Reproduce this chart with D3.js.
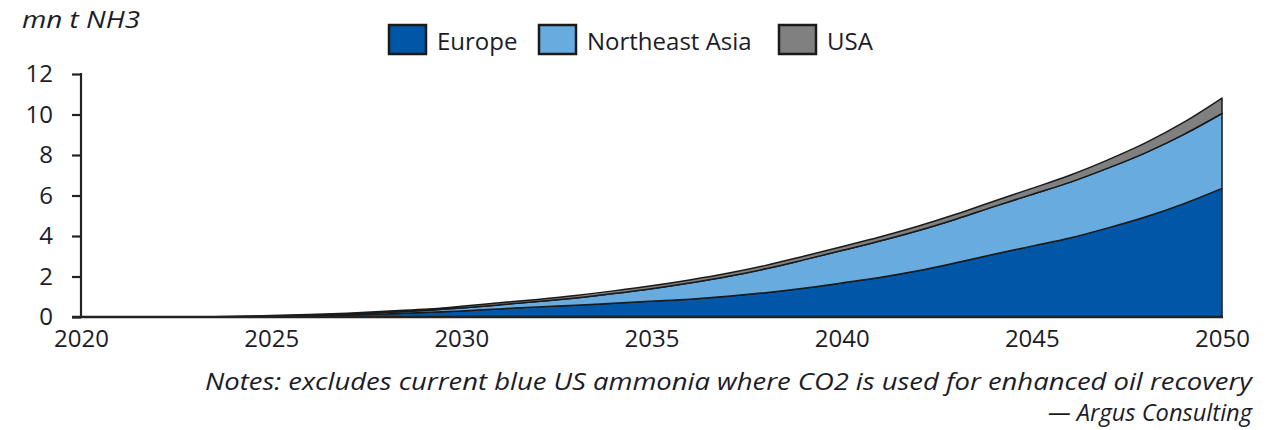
<!DOCTYPE html>
<html><head><meta charset="utf-8">
<script src="https://cdn.jsdelivr.net/npm/d3@7"></script>
<style>
html,body{margin:0;padding:0;background:#fff;}
svg{display:block;font-family:"Open Sans","Noto Sans",sans-serif;}
</style></head>
<body>
<svg id="chart" width="1281" height="430"></svg>
<script>
const years = d3.range(2020, 2051);
const europe = [0,0,0,0,0.01,0.03,0.06,0.1,0.15,0.22,0.3,0.4,0.5,0.58,0.68,0.78,0.88,1.02,1.2,1.42,1.68,1.95,2.28,2.68,3.1,3.5,3.9,4.4,4.95,5.6,6.35];
const neAsia = [0,0,0,0,0.01,0.02,0.03,0.05,0.08,0.1,0.15,0.2,0.26,0.36,0.48,0.62,0.8,0.98,1.18,1.4,1.6,1.8,1.98,2.15,2.35,2.55,2.75,2.95,3.17,3.42,3.7];
const usa = [0,0,0,0,0.01,0.02,0.03,0.04,0.05,0.06,0.08,0.1,0.11,0.12,0.13,0.14,0.15,0.16,0.17,0.18,0.19,0.2,0.22,0.24,0.27,0.3,0.35,0.41,0.49,0.6,0.76];
const seriesNames = ["Europe","Northeast Asia","USA"];
const colors = ["#0057a8","#68acdf","#808080"];
const yTicks = [0,2,4,6,8,10,12];
const xTicks = [2020,2025,2030,2035,2040,2045,2050];
const unitLabel = "mn t NH3";
const noteText = "Notes: excludes current blue US ammonia where CO2 is used for enhanced oil recovery";
const sourceText = "— Argus Consulting";

const table = years.map((y,i)=>({year:y,"Europe":europe[i],"Northeast Asia":neAsia[i],"USA":usa[i]}));
const svg = d3.select("#chart");
const x = d3.scaleLinear().domain([2020,2050]).range([81,1222]);
const y = d3.scaleLinear().domain([0,12]).range([317,74]);
const textColor = "#1c1c28";

const stack = d3.stack().keys(seriesNames)(table);
const area = d3.area().curve(d3.curveMonotoneX).x(d=>x(d.data.year)).y0(d=>y(d[0])).y1(d=>y(d[1]));
svg.append("g").selectAll("path").data(stack).join("path")
  .attr("d", area).attr("fill",(d,i)=>colors[i])
  .attr("stroke","#1a1a1a").attr("stroke-width",1.5).attr("stroke-linejoin","round");

// y axis
const yAxis = svg.append("g").attr("transform","translate(81,0)")
  .call(d3.axisLeft(y).tickValues(yTicks).tickSize(9).tickPadding(19).tickFormat(d3.format("d")));
yAxis.select(".domain").attr("stroke","#222").attr("stroke-width",2.2).attr("d","M0,73V318");
yAxis.selectAll(".tick line").attr("stroke","#222").attr("stroke-width",2.2);
yAxis.selectAll(".tick text").attr("font-size",24).attr("fill",textColor).attr("font-family","'Open Sans',sans-serif");

// x axis
const xAxis = svg.append("g").attr("transform","translate(0,317)")
  .call(d3.axisBottom(x).tickValues(xTicks).tickSize(0).tickPadding(13).tickFormat(d3.format("d")));
xAxis.select(".domain").attr("stroke","#222").attr("stroke-width",2.4).attr("d","M72,0H1223");
xAxis.selectAll(".tick text").attr("font-size",24).attr("fill",textColor).attr("font-family","'Open Sans',sans-serif");

// unit label
svg.append("text").attr("x",22).attr("y",28).attr("font-size",23).attr("font-style","italic")
  .attr("fill",textColor).attr("textLength",118).attr("lengthAdjust","spacingAndGlyphs").text(unitLabel);

// legend
const legendX = [389,539,779];
const lg = svg.append("g");
seriesNames.forEach((n,i)=>{
  lg.append("rect").attr("x",legendX[i]).attr("y",25).attr("width",37).attr("height",29)
    .attr("fill",colors[i]).attr("stroke","#1a1a1a").attr("stroke-width",2.5);
  lg.append("text").attr("x",legendX[i]+48).attr("y",50).attr("font-size",24)
    .attr("fill",textColor).text(n);
});

// notes
svg.append("text").attr("x",1252).attr("y",390).attr("text-anchor","end")
  .attr("font-size",23).attr("font-style","italic").attr("fill",textColor)
  .attr("textLength",1047).attr("lengthAdjust","spacingAndGlyphs").text(noteText);
svg.append("text").attr("x",1252).attr("y",421).attr("text-anchor","end")
  .attr("font-size",23).attr("font-style","italic").attr("fill",textColor)
  .attr("textLength",204).attr("lengthAdjust","spacingAndGlyphs").text(sourceText);
</script>
</body></html>
